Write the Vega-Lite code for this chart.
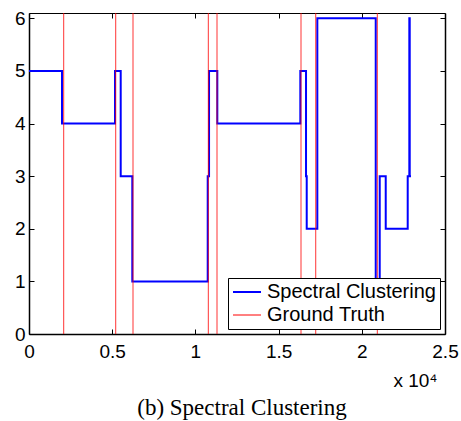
{
  "$schema": "https://vega.github.io/schema/vega-lite/v6.json",
  "width": 416,
  "height": 321,
  "autosize": {"type": "none"},
  "padding": {"left": 29, "top": 13, "right": 16, "bottom": 87},
  "background": "white",
  "config": {"view": {"stroke": null}, "font": "Liberation Sans"},
  "title": {
    "text": "(b) Spectral Clustering",
    "orient": "bottom",
    "font": "Liberation Serif",
    "fontSize": 23,
    "fontWeight": "normal",
    "color": "black",
    "offset": 7,
    "anchor": "middle",
    "dx": 5
  },
  "datasets": {
    "sc": [
      {"i": 1, "x": 0, "y": 5},
      {"i": 2, "x": 1983, "y": 5},
      {"i": 3, "x": 1983, "y": 4},
      {"i": 4, "x": 5169, "y": 4},
      {"i": 5, "x": 5169, "y": 5},
      {"i": 6, "x": 5511, "y": 5},
      {"i": 7, "x": 5511, "y": 3},
      {"i": 8, "x": 6208, "y": 3},
      {"i": 9, "x": 6208, "y": 1},
      {"i": 10, "x": 10740, "y": 1},
      {"i": 11, "x": 10740, "y": 3},
      {"i": 12, "x": 10820, "y": 3},
      {"i": 13, "x": 10820, "y": 5},
      {"i": 14, "x": 11317, "y": 5},
      {"i": 15, "x": 11317, "y": 4},
      {"i": 16, "x": 16305, "y": 4},
      {"i": 17, "x": 16305, "y": 5},
      {"i": 18, "x": 16648, "y": 5},
      {"i": 19, "x": 16648, "y": 3},
      {"i": 20, "x": 16690, "y": 3},
      {"i": 21, "x": 16690, "y": 2},
      {"i": 22, "x": 17327, "y": 2},
      {"i": 23, "x": 17327, "y": 6},
      {"i": 24, "x": 20837, "y": 6},
      {"i": 25, "x": 20837, "y": 1},
      {"i": 26, "x": 21077, "y": 1},
      {"i": 27, "x": 21077, "y": 3},
      {"i": 28, "x": 21438, "y": 3},
      {"i": 29, "x": 21438, "y": 2},
      {"i": 30, "x": 22759, "y": 2},
      {"i": 31, "x": 22759, "y": 3},
      {"i": 32, "x": 22856, "y": 3},
      {"i": 33, "x": 22856, "y": 6},
      {"i": 34, "x": 22880, "y": 6},
      {"i": 35, "x": 22880, "y": 3},
      {"i": 36, "x": 22958, "y": 3}
    ],
    "gt": [
      {"x": 2085}, {"x": 5211}, {"x": 6250}, {"x": 10776},
      {"x": 11299}, {"x": 16347}, {"x": 17231}, {"x": 20933}
    ]
  },
  "resolve": {"axis": {"x": "independent", "y": "independent"}},
  "layer": [
    {
      "data": {"name": "sc"},
      "mark": {"type": "line", "strokeWidth": 2, "interpolate": "linear"},
      "encoding": {
        "x": {
          "field": "x", "type": "quantitative",
          "scale": {"domain": [0, 25000], "nice": false, "zero": false},
          "axis": {
            "orient": "bottom",
            "values": [0, 5000, 10000, 15000, 20000, 25000],
            "labelExpr": "'' + (datum.value / 10000)",
            "grid": false,
            "domainColor": "black", "domainWidth": 1.5,
            "tickColor": "black", "tickSize": -5, "tickWidth": 1,
            "labelFontSize": 19, "labelColor": "black", "labelPadding": 13,
            "labelFlush": false, "labelOverlap": false,
            "title": "x 10\u2074",
            "titleFontSize": 19, "titleFontWeight": "normal", "titleColor": "black",
            "titleAlign": "right", "titleAnchor": "end",
            "titleBaseline": "alphabetic",
            "titleX": 408, "titleY": 52
          }
        },
        "y": {
          "field": "y", "type": "quantitative",
          "scale": {"domain": [0, 6.1], "nice": false, "zero": false},
          "axis": {
            "orient": "left",
            "values": [0, 1, 2, 3, 4, 5, 6],
            "grid": false,
            "domainColor": "black", "domainWidth": 1.5,
            "tickColor": "black", "tickSize": -5, "tickWidth": 1,
            "labelFontSize": 19, "labelColor": "black", "labelPadding": 9,
            "labelOverlap": false, "labelFlush": false,
            "title": null
          }
        },
        "order": {"field": "i", "type": "quantitative"},
        "color": {
          "datum": "Spectral Clustering",
          "type": "nominal",
          "scale": {"domain": ["Spectral Clustering", "Ground Truth"], "range": ["#0000ff", "#ff0000"]},
          "legend": {
            "title": null,
            "orient": "none",
            "legendX": 199,
            "legendY": 265,
            "fillColor": "white",
            "strokeColor": "black",
            "padding": 4,
            "symbolType": "M-1.4,0H1.4",
            "symbolSize": 400,
            "symbolOffset": 5,
            "labelOffset": 10,
            "labelFontSize": 20,
            "labelLimit": 0,
            "labelColor": "black",
            "labelFont": "Liberation Sans",
            "rowPadding": 3,
            "encode": {
              "symbols": {"update": {"strokeWidth": {"signal": "datum.value === 'Ground Truth' ? 1 : 2"}, "opacity": {"value": 1}}}
            }
          }
        }
      }
    },
    {
      "data": {"name": "gt"},
      "mark": {"type": "rule", "strokeWidth": 1, "opacity": 0.8},
      "encoding": {
        "x": {"field": "x", "type": "quantitative", "axis": null},
        "color": {"datum": "Ground Truth", "type": "nominal"}
      }
    },
    {
      "data": {"values": [{"x": 0, "y": 0}]},
      "mark": {"type": "point", "opacity": 0},
      "encoding": {
        "x": {
          "field": "x", "type": "quantitative",
          "axis": {
            "orient": "top", "values": [0, 5000, 10000, 15000, 20000, 25000],
            "labels": false, "title": null, "grid": false,
            "domainColor": "black", "domainWidth": 1,
            "tickColor": "black", "tickSize": -5, "tickWidth": 1
          }
        },
        "y": {
          "field": "y", "type": "quantitative",
          "axis": {
            "orient": "right", "values": [0, 1, 2, 3, 4, 5, 6],
            "labels": false, "title": null, "grid": false,
            "domainColor": "black", "domainWidth": 1.5,
            "tickColor": "black", "tickSize": -5, "tickWidth": 1
          }
        }
      }
    }
  ]
}
